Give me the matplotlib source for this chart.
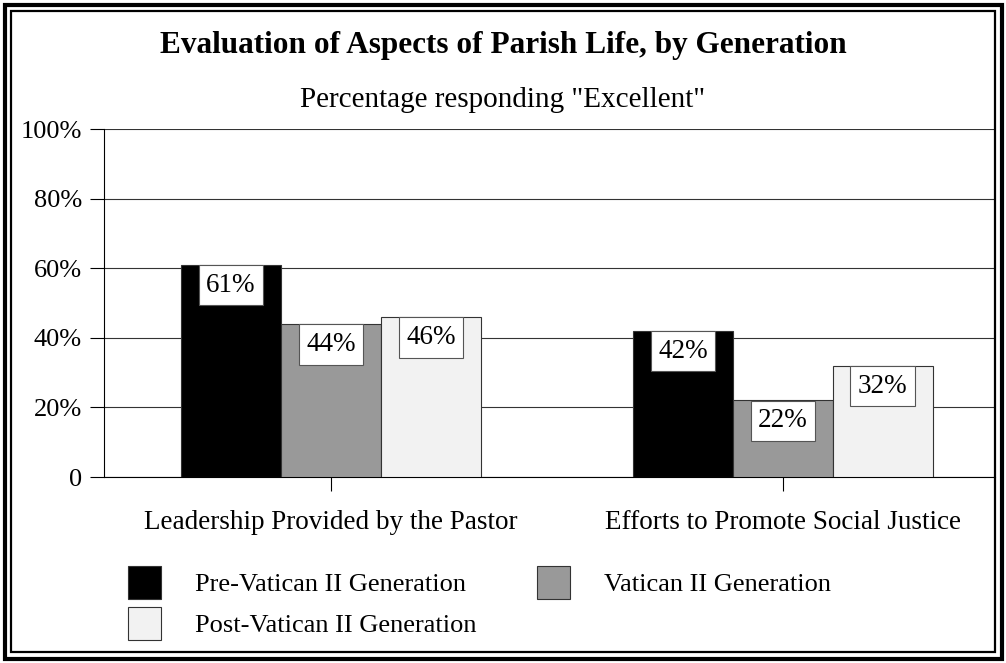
import numpy as np
import matplotlib
matplotlib.use("Agg")
from matplotlib import pyplot as plt
from matplotlib.patches import Rectangle

plt.rcParams['font.family'] = ['Liberation Serif', 'DejaVu Serif']

###################### DATA
categories = ["Leadership Provided by the Pastor", "Efforts to Promote Social Justice"]
generations = ["Pre-Vatican II Generation", "Vatican II Generation", "Post-Vatican II Generation"]
values = {
    "Pre-Vatican II Generation": [61, 42],
    "Vatican II Generation": [44, 22],
    "Post-Vatican II Generation": [46, 32],
}
colors = ["#000000", "#999999", "#f2f2f2"]
yticks = [0, 20, 40, 60, 80, 100]
ytick_labels = ["0", "20%", "40%", "60%", "80%", "100%"]
########################

W, H = 1006, 663
fig = plt.figure(figsize=(W / 100, H / 100), dpi=100)

ax = fig.add_axes([104 / W, (H - 477) / H, (995 - 104) / W, (477 - 129) / H])

x = np.arange(len(categories))
bw = 0.221
for i, g in enumerate(generations):
    pos = x + (i - 1) * bw
    ax.bar(pos, values[g], width=bw, color=colors[i], edgecolor="#333333", linewidth=0.8, zorder=3)
    for p, v in zip(pos, values[g]):
        ax.annotate(f"{v}%", xy=(p, v), xytext=(0, -5.8), textcoords="offset points",
                    ha="center", va="top", fontsize=19.5, zorder=5,
                    bbox=dict(boxstyle="square,pad=0.28", fc="white", ec="#555555", lw=0.8))

ax.set_xlim(-0.502, 1.469)
ax.set_ylim(0, 100)
ax.set_yticks(yticks)
ax.set_yticklabels(ytick_labels, fontsize=19)
ax.set_xticks(x)
ax.set_xticklabels(categories, fontsize=19.5)
ax.tick_params(axis="y", length=10, width=0.8, pad=6)
ax.tick_params(axis="x", length=10, width=0.8, pad=14)
ax.yaxis.grid(True, color="#333333", linewidth=0.8, zorder=0)
for s in ["top", "right"]:
    ax.spines[s].set_visible(False)
ax.spines["left"].set_linewidth(0.8)
ax.spines["bottom"].set_linewidth(0.8)

fig.text(0.5, 1 - 46 / H, "Evaluation of Aspects of Parish Life, by Generation",
         ha="center", va="center", fontsize=22.5, fontweight="bold")
fig.text(0.5, 1 - 100 / H, 'Percentage responding "Excellent"',
         ha="center", va="center", fontsize=21)

# legend drawn by hand
leg = [(128, 566, 0), (537, 566, 1), (128, 607, 2)]
for lx, ly, i in leg:
    fig.patches.append(Rectangle((lx / W, 1 - (ly + 33) / H), 33 / W, 33 / H,
                                 transform=fig.transFigure, fc=colors[i], ec="#333333", lw=0.8))
    fig.text((lx + 67) / W, 1 - (ly + 19) / H, generations[i], ha="left", va="center", fontsize=19)

# double frame
fig.patches.append(Rectangle((4.5 / W, 4.5 / H), (W - 9) / W, (H - 9) / H, transform=fig.transFigure,
                             fill=False, ec="black", lw=3))
fig.patches.append(Rectangle((11 / W, 11 / H), (W - 22) / W, (H - 22) / H, transform=fig.transFigure,
                             fill=False, ec="black", lw=1.6))

plt.savefig("out.png", dpi=100)
